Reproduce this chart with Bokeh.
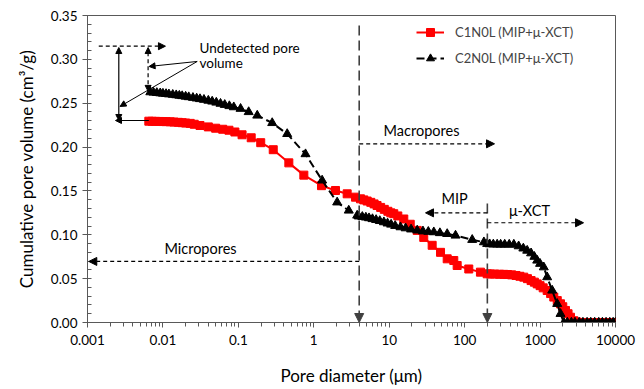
from bokeh.plotting import figure
from bokeh.models import (Range1d, Arrow, NormalHead, Legend, LegendItem, FixedTicker,
                          PrintfTickFormatter, CustomJSTickFormatter, LogTicker)
from bokeh.core.properties import value
from bokeh.embed import file_html
from bokeh.resources import INLINE

FONT = "Lato"

# ---- data ----
c1_x = [0.0065, 0.0072, 0.0080, 0.0090, 0.010, 0.011, 0.0125, 0.014, 0.016, 0.018, 0.020, 0.023,
        0.026, 0.031, 0.040, 0.050, 0.062, 0.075, 0.090, 0.112, 0.148, 0.198, 0.290, 0.467,
        0.738, 1.265, 1.94, 2.77, 3.57, 4.16, 4.6, 5.1, 5.7, 6.3, 6.9, 7.7, 8.6, 9.6, 10.5,
        11.5, 13, 15.6, 19, 23.5, 28.7, 37.1, 47.9, 58.7, 71.8, 79.6, 113.5, 162, 199,
        220, 250, 290, 330, 370, 420, 480, 540, 608, 680, 760, 840, 916, 1000, 1100, 1242,
        1380, 1520, 1690, 1866, 2000, 2173, 2350, 2531, 2800, 3100, 3500, 4000, 4500, 5000,
        5600, 6300, 7000, 7800, 8700, 9500, 10000]
c1_y = [0.2295, 0.2294, 0.2293, 0.2292, 0.2291, 0.2290, 0.2288, 0.2285, 0.2282, 0.2278, 0.2274, 0.2270,
        0.2260, 0.2246, 0.2230, 0.2215, 0.2203, 0.2192, 0.2172, 0.2140, 0.2106, 0.2050, 0.1970, 0.1820,
        0.1680, 0.1560, 0.1505, 0.1467, 0.1429, 0.1410, 0.1398, 0.1385, 0.1370, 0.1352, 0.1334, 0.1312, 0.1290, 0.1268, 0.1250,
        0.1240, 0.1215, 0.1180, 0.1120, 0.1050, 0.0970, 0.0880, 0.0800, 0.0726, 0.0707, 0.0650, 0.0610, 0.0574, 0.0555,
        0.0553, 0.0552, 0.0550, 0.0549, 0.0547, 0.0543, 0.0536, 0.0527, 0.0517, 0.0500, 0.0478, 0.0460, 0.0440, 0.0420, 0.0395, 0.0365,
        0.0330, 0.0290, 0.0250, 0.0213, 0.0180, 0.0137, 0.0100, 0.0060, 0.0020, 0.0005, 0.0, 0.0, 0.0, 0.0,
        0.0, 0.0, 0.0, 0.0, 0.0, 0.0, 0.0]

c2_x = [0.0068, 0.0075, 0.0083, 0.0092, 0.010, 0.011, 0.012, 0.0135, 0.015, 0.0165, 0.018, 0.020,
        0.022, 0.025, 0.028, 0.031, 0.035, 0.040, 0.045, 0.051, 0.058, 0.066, 0.076, 0.087,
        0.107, 0.137, 0.178, 0.281, 0.444, 0.777, 1.29, 2.04, 2.91, 3.76, 3.95, 4.4, 4.9, 5.4,
        6.0, 6.7, 7.5, 8.5, 9.5, 10.6, 12, 14.1, 16.5, 19.5, 23.5, 28, 33, 39, 47, 58.7, 75.7,
        126, 180, 199, 215, 240, 270, 300, 340, 390, 449, 520, 600, 675, 760, 840, 916, 1000,
        1120, 1242, 1448, 1687, 1866, 2065, 2300, 2600, 2900, 3300, 3700, 4200, 4700, 5300,
        6000, 6700, 7500, 8400, 9300, 10000]
c2_y = [0.2626, 0.2622, 0.2618, 0.2614, 0.2610, 0.2606, 0.2602, 0.2597, 0.2592, 0.2587, 0.2582, 0.2576,
        0.2570, 0.2562, 0.2555, 0.2548, 0.2540, 0.2530, 0.2520, 0.2508, 0.2495, 0.2482, 0.2468, 0.2455,
        0.2437, 0.2400, 0.2360, 0.2275, 0.2150, 0.1920, 0.1620, 0.1370, 0.1277, 0.1220, 0.1210, 0.1205, 0.1198, 0.1190,
        0.1180, 0.1170, 0.1158, 0.1144, 0.1130, 0.1117, 0.1102, 0.1087, 0.1075, 0.1062, 0.1050, 0.1040, 0.1035, 0.1030, 0.1020, 0.1010, 0.0992,
        0.0943, 0.0916, 0.0897, 0.0893, 0.0891, 0.0890, 0.0889, 0.0889, 0.0889, 0.0889, 0.0870, 0.0845, 0.0820, 0.0790, 0.0750, 0.0707, 0.0670,
        0.0630, 0.0517, 0.0365, 0.0213, 0.0099, 0.0, 0.0, 0.0, 0.0, 0.0, 0.0, 0.0, 0.0, 0.0,
        0.0, 0.0, 0.0, 0.0, 0.0, 0.0]

labels = ["C1N0L (MIP+\u03bc-XCT)", "C2N0L (MIP+\u03bc-XCT)"]
y_ticks = [0.0, 0.05, 0.10, 0.15, 0.20, 0.25, 0.30, 0.35]
y_minor = [i / 100 for i in range(36)]

# annotation anchors (data coordinates)
d_macro = 4.0      # micro/macro boundary
d_mip = 200.0      # MIP / mu-XCT boundary

p = figure(width=644, height=389, x_axis_type="log",
           x_range=Range1d(0.001, 10000), y_range=Range1d(0, 0.35),
           output_backend="svg", toolbar_location=None)
p.min_border_left = 87
p.min_border_right = 29
p.min_border_top = 15
p.min_border_bottom = 67
p.xgrid.visible = False
p.ygrid.visible = False
p.outline_line_color = "#595959"
p.outline_line_width = 1

# axes
p.xaxis.ticker = LogTicker(num_minor_ticks=10)
p.xaxis.formatter = CustomJSTickFormatter(code="return Number(tick.toPrecision(6)).toString();")
p.yaxis.ticker = FixedTicker(ticks=y_ticks, minor_ticks=y_minor)
p.yaxis.formatter = PrintfTickFormatter(format="%.2f")
for ax in (p.xaxis[0], p.yaxis[0]):
    ax.axis_line_color = "#595959"
    ax.major_tick_line_color = "#595959"
    ax.minor_tick_line_color = "#595959"
    ax.major_label_text_font = FONT
    ax.major_label_text_font_size = "13.5px"
    ax.major_label_text_color = "#000000"
    ax.axis_label_text_font = FONT
    ax.axis_label_text_font_size = "17px"
    ax.axis_label_text_font_style = "normal"
    ax.axis_label_text_color = "#000000"
p.xaxis.major_tick_out = 5
p.xaxis.major_tick_in = 0
p.xaxis.minor_tick_out = 4
p.xaxis.minor_tick_in = 0
p.yaxis.major_tick_out = 5
p.yaxis.major_tick_in = 0
p.yaxis.minor_tick_out = 0
p.yaxis.minor_tick_in = 4
p.xaxis.major_label_standoff = 7
p.xaxis.axis_label_standoff = 17
p.yaxis.major_label_standoff = 5
p.yaxis.axis_label_standoff = 11
p.xaxis.axis_label = "Pore diameter (\u03bcm)"
p.yaxis.axis_label = "Cumulative pore volume (cm\u00b3/g)"

# series
r1l = p.line(c1_x, c1_y, line_color="#ff0000", line_width=2)
r1m = p.scatter(c1_x, c1_y, marker="square", size=8, fill_color="#ff0000", line_color="#ff0000")
r2l = p.line(c2_x, c2_y, line_color="#000000", line_width=2, line_dash="8 4")
r2m = p.scatter(c2_x, c2_y, marker="triangle", size=9, fill_color="#000000", line_color="#000000")

legend = Legend(items=[LegendItem(label=labels[0], renderers=[r1l, r1m]),
                       LegendItem(label=labels[1], renderers=[r2l, r2m])],
                location=(329, 254), padding=0, margin=0, spacing=6,
                glyph_width=28, glyph_height=20, label_height=20, label_standoff=11,
                label_text_font=FONT, label_text_font_size="13px",
                border_line_alpha=0, background_fill_alpha=0)
p.add_layout(legend)

def head(sz=8, c="#000000"):
    return NormalHead(size=sz, fill_color=c, line_color=c, line_width=1)

gray = "#404040"
# boundary vertical dashed lines
p.add_layout(Arrow(x_start=d_macro, y_start=0.3387, x_end=d_macro, y_end=0.0, end=head(9, gray),
                   line_color=gray, line_width=1.6, line_dash="10 5"))
p.add_layout(Arrow(x_start=d_mip, y_start=0.1357, x_end=d_mip, y_end=0.0, end=head(9, gray),
                   line_color=gray, line_width=1.6, line_dash="10 5"))
# horizontal range arrows
for xs, xe, yy in [(d_macro, 249, 0.2037), (d_macro, 0.00104, 0.0696),
                   (d_mip, 30.3, 0.125), (d_mip, 3770, 0.1137)]:
    p.add_layout(Arrow(x_start=xs, y_start=yy, x_end=xe, y_end=yy, end=head(8),
                       line_color="#000000", line_width=1.2, line_dash="4 3"))

# undetected pore volume annotation
p.add_layout(Arrow(x_start=0.00141, y_start=0.315, x_end=0.0108, y_end=0.315, end=head(7),
                   line_color="#000000", line_width=1.2, line_dash="4 3"))
p.add_layout(Arrow(x_start=0.0026, y_start=0.2303, x_end=0.0026, y_end=0.3135, end=head(6), start=head(6),
                   line_color="#000000", line_width=1.2))
p.add_layout(Arrow(x_start=0.0065, y_start=0.2303, x_end=0.00235, y_end=0.2303, end=head(6),
                   line_color="#000000", line_width=1.2))
p.add_layout(Arrow(x_start=0.00636, y_start=0.2635, x_end=0.00636, y_end=0.3135, end=head(6), start=head(6),
                   line_color="#000000", line_width=1.2, line_dash="4 3"))
p.add_layout(Arrow(x_start=0.02846, y_start=0.2976, x_end=0.00655, y_end=0.2919, end=head(6),
                   line_color="#000000", line_width=1))
p.add_layout(Arrow(x_start=0.02846, y_start=0.2976, x_end=0.0027, y_end=0.2463, end=head(6),
                   line_color="#000000", line_width=1))

# texts
p.text(x=[0.0305, 0.0305], y=[0.3124, 0.2955], text=["Undetected pore", "volume"],
       text_font=value(FONT), text_font_size="13.5px", text_align="left", text_baseline="middle",
       text_color="#000000")
p.text(x=[26.8, 0.0315, 73.5, 725], y=[0.219, 0.0844, 0.141, 0.1277],
       text=["Macropores", "Micropores", "MIP", "\u03bc-XCT"],
       text_font=value(FONT), text_font_size="14.5px", text_align="center", text_baseline="middle",
       text_color="#000000")

open("out.html", "w").write(file_html(p, INLINE))
